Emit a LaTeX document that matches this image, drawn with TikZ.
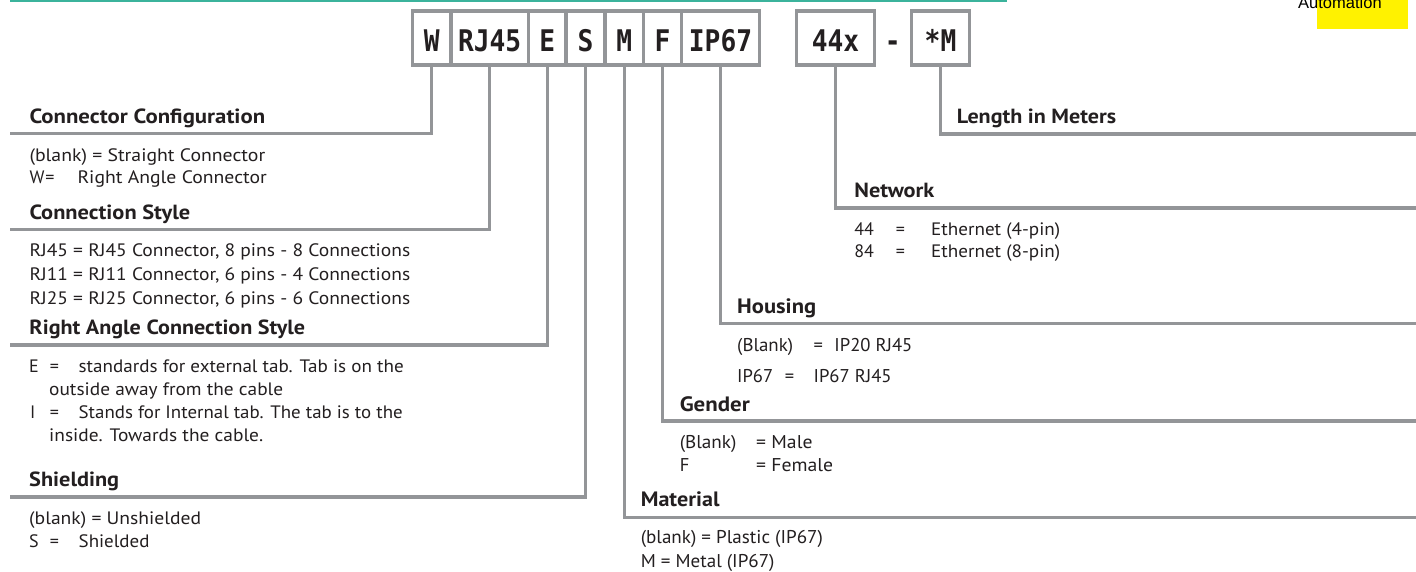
\documentclass[tikz,border=0pt]{standalone}
\usepackage{fontspec}
\usepackage{graphicx}
\setmainfont{PT Sans}
\newfontfamily\boxfont[FakeStretch=0.88]{DejaVu Sans Mono}
\newfontfamily\arialfont{Liberation Sans}
\definecolor{ink}{HTML}{231F20}
\definecolor{rulegray}{HTML}{939598}
\definecolor{topgreen}{HTML}{3BB39C}
\definecolor{topyellow}{HTML}{FFF200}
\newlength\fitlen
\newcommand\fitto[2]{\settowidth\fitlen{#2}\pgfmathsetmacro\fitfac{#1/\fitlen}\scalebox{\fitfac}[1]{#2}}
\tikzset{
  conn/.style={draw=rulegray, line width=3.2pt},
  digit/.style={draw=rulegray, line width=3.2pt, fill=white, inner sep=0pt,
    minimum height=54pt, text height=27.4pt, text depth=0pt, text=ink,
    font=\boxfont\bfseries\fontsize{29.8}{30}\selectfont},
  head/.style={anchor=base west, inner sep=0pt, text=ink, font=\bfseries\fontsize{20.5}{22}\selectfont},
  body/.style={anchor=base west, inner sep=0pt, text=ink, font=\fontsize{18}{20}\selectfont},
  chead/.style={anchor=base west, inner sep=0pt, text=ink, font=\bfseries\fontsize{20.8}{22}\selectfont},
  cbody/.style={anchor=base west, inner sep=0pt, text=ink, font=\fontsize{18.5}{20}\selectfont},
}
\begin{document}
\begin{tikzpicture}[x=1pt,y=-1pt]
\useasboundingbox (0,0) rectangle (1416,572);
\fill[white] (0,0) rectangle (1416,572);
% top decorations
\coordinate (gA) at (10,1);
\coordinate (gB) at (1007,1);
\draw[topgreen, line width=2.5pt] (gA) -- (gB);
\fill[topyellow] (1317,0) rectangle (1408,29);
\node[anchor=base west, inner sep=0pt, text=black, font=\arialfont\fontsize{16.5}{18}\selectfont] (auto) at (1298,8.3) {Automation};

% end points of connectors
\coordinate (eCC) at (10,133.5);
\coordinate (eCS) at (10,229.5);
\coordinate (eRA) at (10,345);
\coordinate (eSH) at (10,497);
\coordinate (eMA) at (1416,517.3);
\coordinate (eGE) at (1416,421);
\coordinate (eHO) at (1416,323.7);
\coordinate (eNE) at (1416,208);
\coordinate (eLE) at (1416,134);

% code boxes
\node[digit, minimum width=38.3pt] (bW) at (431.85,38) {W};
\node[digit, minimum width=77.3pt] (bRJ) at (489.65,38) {RJ45};
\node[digit, minimum width=37.7pt] (bE) at (547.15,38) {E};
\node[digit, minimum width=39pt] (bS) at (585.5,38) {S};
\node[digit, minimum width=38.3pt] (bM) at (624.15,38) {M};
\node[digit, minimum width=38.4pt] (bF) at (662.5,38) {F};
\node[digit, minimum width=77.6pt] (bIP) at (720.5,38) {IP67};
\node[digit, minimum width=77.6pt] (bNet) at (835.5,38) {44x};
\node[inner sep=0pt, text=ink, font=\boxfont\bfseries\fontsize{29.8}{30}\selectfont, text height=27.4pt, text depth=0pt] (dash) at (892.7,38) {-};
\node[digit, minimum width=57.6pt] (bLen) at (940.5,38) {*M};

% connectors
\draw[conn] (bW.south) |- (eCC);
\draw[conn] (bRJ.south) |- (eCS);
\draw[conn] (bE.south) |- (eRA);
\draw[conn] (bS.south) |- (eSH);
\draw[conn] (bM.south) |- (eMA);
\draw[conn] (bF.south) |- (eGE);
\draw[conn] (bIP.south) |- (eHO);
\draw[conn] (bNet.south) |- (eNE);
\draw[conn] (bLen.south) |- (eLE);

% left column
\node[head] (hCC) at (29.3,123.3) {\fitto{235.7}{Connector Configuration}};
\node[body] (cc1) at (29.3,161.5) {\fitto{235.7}{(blank) = Straight Connector}};
\node[body] (cc2a) at (29.3,183.3) {W\kern1pt=};
\node[body] (cc2b) at (77.3,183.3) {\fitto{189.4}{Right Angle Connector}};

\node[head] (hCS) at (29.3,219.3) {\fitto{160.7}{Connection Style}};
\node[body] (cs1) at (29.3,256.7) {\fitto{380.7}{RJ45 = RJ45 Connector, 8 pins - 8 Connections}};
\node[body] (cs2) at (29.3,280.7) {\fitto{380.7}{RJ11 = RJ11 Connector, 6 pins - 4 Connections}};
\node[body] (cs3) at (29.3,304.3) {\fitto{380.7}{RJ25 = RJ25 Connector, 6 pins - 6 Connections}};

\node[head] (hRA) at (29.3,334.5) {\fitto{275.7}{Right Angle Connection Style}};
\node[body] (ra1a) at (29,372.7) {E};
\node[body] (ra1b) at (49.7,372.7) {=};
\node[body] (ra1c) at (78.5,372.7) {\fitto{325}{standards for external tab. Tab is on the}};
\node[body] (ra2) at (49,395) {\fitto{234}{outside away from the cable}};
\node[body] (ra3a) at (30,418.3) {I};
\node[body] (ra3b) at (49.7,418.3) {=};
\node[body] (ra3c) at (78.5,418.3) {\fitto{324}{Stands for Internal tab. The tab is to the}};
\node[body] (ra4) at (49,441.7) {\fitto{214}{inside. Towards the cable.}};

\node[head] (hSH) at (29,486.7) {\fitto{90}{Shielding}};
\node[body] (sh1) at (29,524) {\fitto{172}{(blank) = Unshielded}};
\node[body] (sh2a) at (29,547.7) {S};
\node[body] (sh2b) at (49.7,547.7) {=};
\node[body] (sh2c) at (78.5,547.7) {\fitto{70.8}{Shielded}};

% middle column
\node[chead] (hHO) at (737,313.3) {\fitto{79}{Housing}};
\node[cbody] (ho1a) at (737,351) {\fitto{56}{(Blank)}};
\node[cbody] (ho1b) at (813.4,351) {=};
\node[cbody] (ho1c) at (834.2,351) {\fitto{78}{IP20 RJ45}};
\node[cbody] (ho2a) at (737,382) {\fitto{36}{IP67}};
\node[cbody] (ho2b) at (784.7,382) {=};
\node[cbody] (ho2c) at (813.4,382) {\fitto{78}{IP67 RJ45}};

\node[chead] (hGE) at (679.6,411) {\fitto{70}{Gender}};
\node[cbody] (ge1a) at (679.6,448) {\fitto{56.7}{(Blank)}};
\node[cbody] (ge1b) at (756,448) {\fitto{56.3}{= Male}};
\node[cbody] (ge2a) at (679.6,471.7) {F};
\node[cbody] (ge2b) at (756,471.7) {\fitto{77}{= Female}};

\node[chead] (hMA) at (640.6,506.7) {\fitto{78.7}{Material}};
\node[cbody] (ma1) at (640.6,543.3) {\fitto{182.1}{(blank) = Plastic (IP67)}};
\node[cbody] (ma2) at (640.6,567.3) {\fitto{133.7}{M = Metal (IP67)}};

% right column
\node[head] (hNE) at (854.2,197.3) {\fitto{80}{Network}};
\node[body] (ne1a) at (854.2,236) {44};
\node[body] (ne1b) at (895.6,236) {=};
\node[body] (ne1c) at (931,236) {\fitto{129}{Ethernet (4-pin)}};
\node[body] (ne2a) at (854.2,257.7) {84};
\node[body] (ne2b) at (895.6,257.7) {=};
\node[body] (ne2c) at (931,257.7) {\fitto{129}{Ethernet (8-pin)}};

\node[head] (hLE) at (956.7,123.3) {\fitto{159.3}{Length in Meters}};
\end{tikzpicture}
\end{document}
